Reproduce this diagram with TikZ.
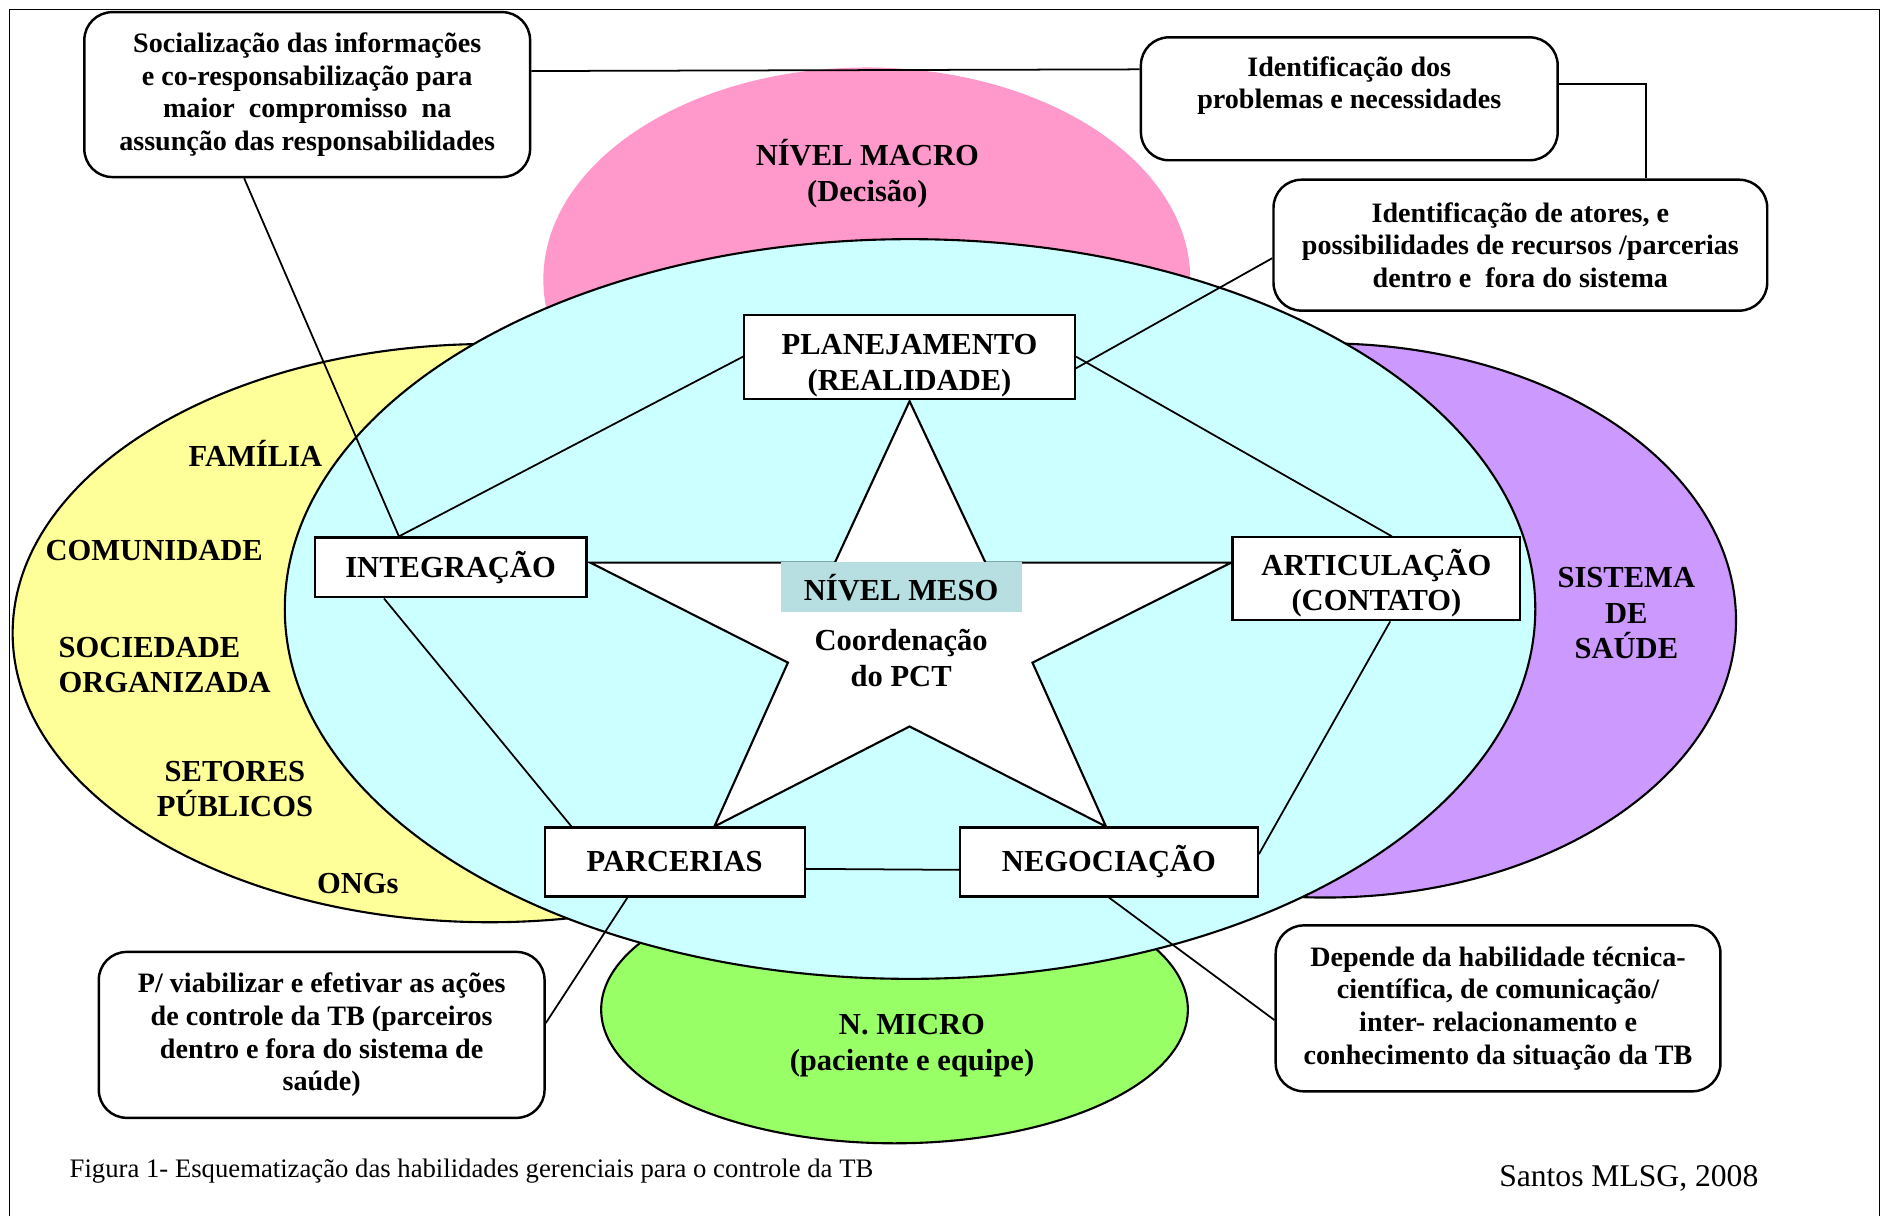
\documentclass[tikz,border=0pt]{standalone}
\usepackage{fontspec}
\setmainfont{Liberation Serif}
\usepackage{tikz}

\definecolor{macrocol}{HTML}{FF99CC}
\definecolor{comcol}{HTML}{FFFF99}
\definecolor{saudecol}{HTML}{CC99FF}
\definecolor{microcol}{HTML}{99FF66}
\definecolor{mesocol}{HTML}{CCFFFF}
\definecolor{mesolabel}{HTML}{B7DEE0}

\begin{document}
\begin{tikzpicture}[
    x=0.012047cm, y=-0.012047cm,
    line width=0.6pt,
    lvl/.style={align=center, font=\fontsize{8.7}{10.1}\selectfont\bfseries},
    box/.style={rectangle, draw, fill=white, align=center, inner sep=0pt, font=\fontsize{8.7}{10.1}\selectfont\bfseries},
    note/.style={rectangle, draw, line width=0.7pt, rounded corners=0.28cm, fill=white, align=center, inner sep=2pt, font=\fontsize{8}{9.3}\selectfont\bfseries},
    link/.style={line width=0.5pt}
]
    \useasboundingbox (0,0) rectangle (1568,1009);
    \draw[line width=0.4pt] (8,1009) -- (8,8) -- (1560,8) -- (1560,1009);

    % levels
    \fill[macrocol] (719.5,232) ellipse [x radius=268.5, y radius=176];
    \filldraw[fill=comcol] (406.5,525.5) ellipse [x radius=396, y radius=240];
    \filldraw[fill=saudecol] (1100,515) ellipse [x radius=341, y radius=230];
    \filldraw[fill=microcol] (742.5,838) ellipse [x radius=243.5, y radius=111];
    \filldraw[fill=mesocol] (755.4,505.5) ellipse [x radius=519, y radius=307];

    % star
    \filldraw[fill=white] (755,333) -- (818,467) -- (1022,467) -- (857,550) -- (918,686)
        -- (755,603) -- (593,686) -- (654,550) -- (490,467) -- (693,467) -- cycle;

    \node[lvl] (macro) at (720,144) {NÍVEL MACRO\\(Decisão)};
    \node[lvl] (familia) at (212,376) {FAMÍLIA};
    \node[lvl] (comunidade) at (128,457) {COMUNIDADE};
    \node[lvl, align=left, anchor=west] (sociedade) at (38,552) {SOCIEDADE\\ORGANIZADA};
    \node[lvl] (setores) at (195,655) {SETORES\\PÚBLICOS};
    \node[lvl] (ongs) at (297,733) {ONGs};
    \node[lvl] (sistema) at (1350,509) {SISTEMA\\DE\\SAÚDE};
    \node[lvl] (micro) at (757,868) {N. MICRO\\(paciente e equipe)};
    \node[lvl, fill=mesolabel, minimum width=2.41cm, minimum height=0.49cm] (meso) at (748,487.5) {NÍVEL MESO};
    \node[lvl] (coord) at (748,546) {Coordenação\\do PCT};

    % habilidades
    \node[box, minimum width=3.31cm, minimum height=0.84cm] (plan) at (755,296) {\rule{0pt}{11pt}PLANEJAMENTO\\(REALIDADE)};
    \node[box, minimum width=2.72cm, minimum height=0.6cm] (integ) at (374,471) {INTEGRAÇÃO};
    \node[box, minimum width=2.88cm, minimum height=0.83cm] (artic) at (1142.5,480.5) {\rule{0pt}{10pt}ARTICULAÇÃO\\(CONTATO)};
    \node[box, minimum width=2.6cm, minimum height=0.69cm] (parc) at (560,715.5) {PARCERIAS};
    \node[box, minimum width=2.98cm, minimum height=0.69cm] (negoc) at (920.5,715.5) {NEGOCIAÇÃO};

    % notas
    \node[note, minimum width=4.46cm, minimum height=1.65cm] (soc) at (255,78.5)
        {Socialização das informações\\e co-responsabilização para\\maior\ \ compromisso\ \ na\\assunção das responsabilidades};
    \node[note, minimum width=4.17cm, minimum height=1.23cm] (iddos) at (1120,82)
        {Identificação dos\\problemas e necessidades\\~};
    \node[note, minimum width=4.94cm, minimum height=1.31cm] (idatores) at (1262,203.5)
        {Identificação de atores, e\\possibilidades de recursos /parcerias\\dentro e\ \ fora do sistema};
    \node[note, minimum width=4.46cm, minimum height=1.66cm] (pviab) at (267,859)
        {P/ viabilizar e efetivar as ações\\de controle da TB (parceiros\\dentro e fora do sistema de\\saúde)};
    \node[note, minimum width=4.45cm, minimum height=1.66cm] (depende) at (1243.5,837)
        {Depende da habilidade técnica-\\científica, de comunicação/\\inter- relacionamento e\\conhecimento da situação da TB};

    % pentagono
    \draw[link] (plan.west) -- (integ.149);
    \draw[link] (plan.east) -- (artic.70);
    \draw[link] (artic.-72) -- (negoc.3);
    \draw[link] (negoc.183) -- (parc.-3);
    \draw[link] (parc.161) -- (integ.-155);

    % ligacoes das notas
    \draw[link] (soc.-127) -- (integ.149);
    \draw[link] (soc.6) -- (iddos.172);
    \draw[link] (iddos.4) -| (idatores.28);
    \draw[link] (idatores.183) -- (plan.-4);
    \draw[link] (pviab.3) -- (parc.-143);
    \draw[link] (depende.183) -- (negoc.south);

    \node[anchor=west, inner sep=0pt, font=\fontsize{7.6}{9}\selectfont] (legenda) at (57,972)
        {Figura 1- Esquematização das habilidades gerenciais para o controle da TB};
    \node[font=\fontsize{9}{11}\selectfont] (autor) at (1352,978) {Santos MLSG, 2008};
\end{tikzpicture}
\end{document}
